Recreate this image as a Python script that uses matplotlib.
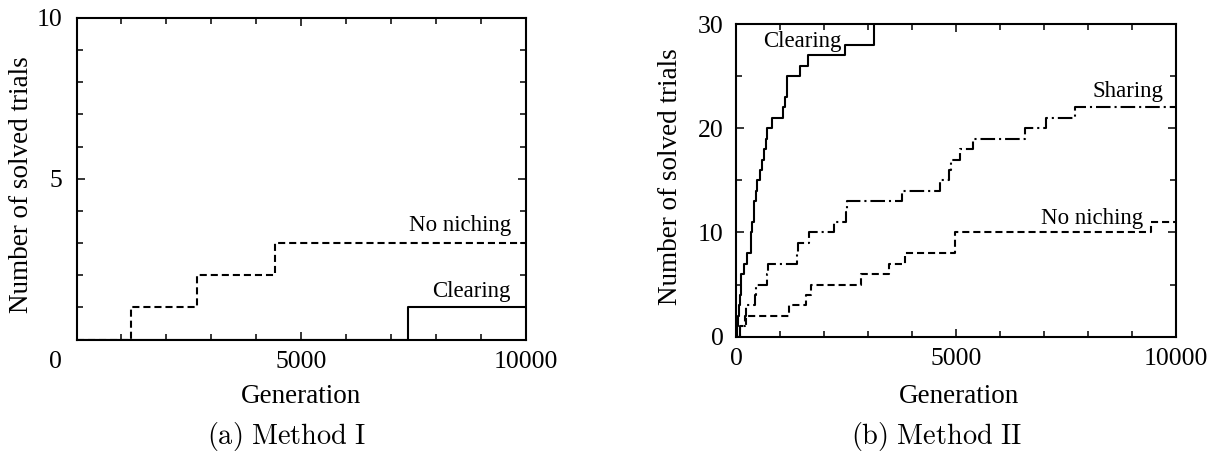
import matplotlib
matplotlib.use("Agg")
import matplotlib.pyplot as plt
from matplotlib.ticker import FixedLocator

# ---------------- data ----------------
# (a) Method I
a_noniche_gen = [0, 1220, 2690, 4410, 10000]
a_noniche_val = [0, 1, 2, 3, 3]
a_clear_gen = [0, 7380, 10000]
a_clear_val = [0, 1, 1]

# (b) Method II
b_clear_gen = [0, 20, 40, 60, 90, 120, 175, 240, 330, 350, 370, 400, 420, 450,
               480, 540, 600, 640, 680, 710, 820, 1080, 1120, 1150, 1460, 1630,
               2480, 3130]
b_clear_val = [0, 1, 2, 3, 4, 6, 7, 8, 9, 10, 11, 12, 13, 14, 15, 16, 17, 18,
               19, 20, 21, 22, 23, 25, 26, 27, 28, 30]
b_share_gen = [0, 100, 200, 230, 430, 450, 700, 720, 1380, 1400, 1670, 2220,
               2500, 2530, 3770, 4640, 4850, 4880, 5100, 5400, 6580, 7060, 7710,
               10000]
b_share_val = [0, 1, 2, 3, 4, 5, 6, 7, 8, 9, 10, 11, 12, 13, 14, 15, 16, 17,
               18, 19, 20, 21, 22, 22]
b_noniche_gen = [0, 100, 230, 1210, 1590, 1700, 2840, 3470, 3840, 4980, 9430, 10000]
b_noniche_val = [0, 1, 2, 3, 4, 5, 6, 7, 8, 10, 11, 11]

a_xticks = [0, 5000, 10000]
a_xticklabels = ["", "5000", "10000"]
a_yticks = [0, 5, 10]
a_yticklabels = ["", "5", "10"]
b_xticks = [0, 5000, 10000]
b_xticklabels = ["0", "5000", "10000"]
b_yticks = [0, 10, 20, 30]
b_yticklabels = ["0", "10", "20", "30"]

xlabel = "Generation"
ylabel = "Number of solved trials"
caption_a = r"$\mathrm{(a)\ Method\ I}$"
caption_b = r"$\mathrm{(b)\ Method\ II}$"

# ---------------- style ----------------
plt.rcParams["font.family"] = ["Liberation Serif", "DejaVu Serif"]
plt.rcParams["mathtext.fontset"] = "cm"

W, H = 1210, 454
fig = plt.figure(figsize=(W / 100, H / 100), dpi=100)


def px_axes(l, t, r, b):
    return fig.add_axes([l / W, 1 - b / H, (r - l) / W, (b - t) / H])


LW = 1.5
dash = (0, (3.4, 1.9))
dashdot = (0, (7.0, 1.9, 1.0, 1.9))


def style(ax, xmajor, xlabels, ymajor, ylabels, xminor, yminor, ypad):
    for s in ax.spines.values():
        s.set_linewidth(1.5)
    ax.set_xticks(xmajor)
    ax.set_xticklabels(xlabels)
    ax.set_yticks(ymajor)
    ax.set_yticklabels(ylabels)
    ax.xaxis.set_minor_locator(FixedLocator(xminor))
    ax.yaxis.set_minor_locator(FixedLocator(yminor))
    ax.tick_params(which="both", direction="in", top=True, right=True,
                   labelsize=18.5, width=1.1)
    ax.tick_params(which="major", length=6.0)
    ax.tick_params(which="minor", length=4.0)
    ax.tick_params(axis="x", pad=8)
    ax.tick_params(axis="y", pad=ypad)


# ---- (a) ----
ax1 = px_axes(76.5, 18, 525.7, 339.5)
ax1.step(a_noniche_gen, a_noniche_val, where="post", color="black", lw=LW,
         linestyle=dash)
ax1.step(a_clear_gen, a_clear_val, where="post", color="black", lw=LW)
ax1.set_xlim(0, 10000)
ax1.set_ylim(0, 10)
style(ax1, a_xticks, a_xticklabels, a_yticks, a_yticklabels,
      [g for g in range(1000, 10000, 1000) if g != 5000],
      [v for v in range(1, 10) if v != 5], 10)
ax1.text((55.4 - 76.5) / 449.2, (339.5 - 361.7) / 321.5, "0", fontsize=18.5,
         ha="center", va="center", transform=ax1.transAxes)
ax1.text((510.7 - 76.5) / 449.2, (339.5 - 225.7) / 321.5, "No niching",
         fontsize=16.5, ha="right", va="center", transform=ax1.transAxes)
ax1.text((510.7 - 76.5) / 449.2, (339.5 - 291) / 321.5, "Clearing",
         fontsize=16.5, ha="right", va="center", transform=ax1.transAxes)

# ---- (b) ----
ax2 = px_axes(736, 24, 1175.7, 336.7)
ax2.step(b_clear_gen, b_clear_val, where="post", color="black", lw=LW)
ax2.step(b_share_gen, b_share_val, where="post", color="black", lw=LW,
         linestyle=dashdot)
ax2.step(b_noniche_gen, b_noniche_val, where="post", color="black", lw=LW,
         linestyle=dash)
ax2.set_xlim(0, 10000)
ax2.set_ylim(0, 30)
style(ax2, b_xticks, b_xticklabels, b_yticks, b_yticklabels,
      [g for g in range(1000, 10000, 1000) if g != 5000],
      [5, 15, 25], 9)
bw, bh = 1175.7 - 736, 336.7 - 24
ax2.text((842 - 736) / bw, (336.7 - 41.7) / bh, "Clearing", fontsize=16.5,
         ha="right", va="center", transform=ax2.transAxes)
ax2.text((1163.5 - 736) / bw, (336.7 - 91.7) / bh, "Sharing", fontsize=16.5,
         ha="right", va="center", transform=ax2.transAxes)
ax2.text((1143 - 736) / bw, (336.7 - 218.3) / bh, "No niching", fontsize=16.5,
         ha="right", va="center", transform=ax2.transAxes)

# ---- labels and captions ----
def ftext(x, y, s, **kw):
    fig.text(x / W, 1 - y / H, s, ha="center", va="center", **kw)

ftext(22, 185, ylabel, fontsize=19.5, rotation=90)
ftext(301, 396.7, xlabel, fontsize=19.5)
ftext(670.6, 176.7, ylabel, fontsize=19.5, rotation=90)
ftext(959, 396.7, xlabel, fontsize=19.5)
ftext(286.6, 436.7, caption_a, fontsize=20.4)
ftext(937, 436.7, caption_b, fontsize=20.4)

fig.savefig("out.png", dpi=100)
